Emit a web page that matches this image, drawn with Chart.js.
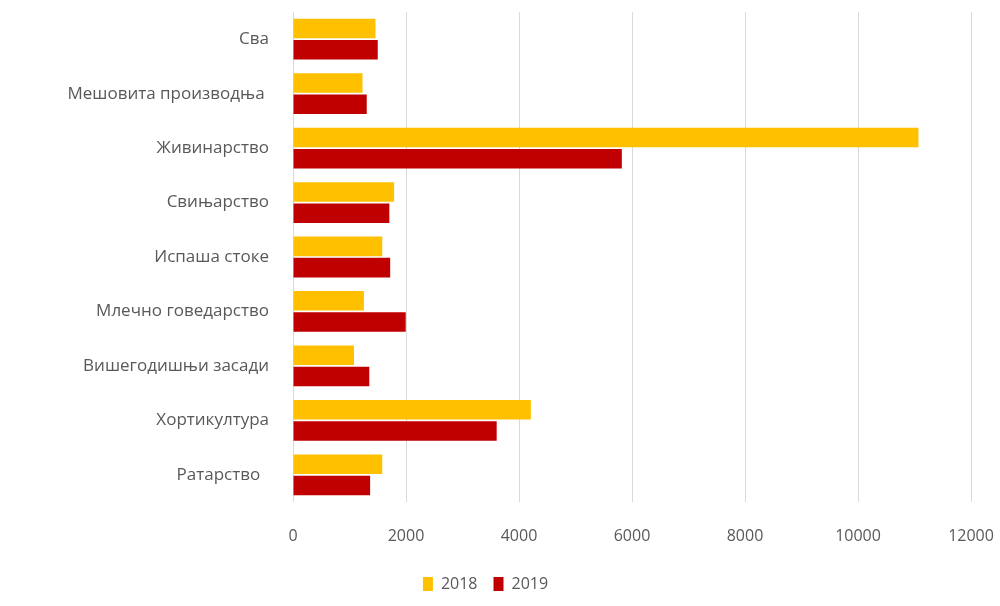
<!DOCTYPE html>
<html>
<head>
<meta charset="utf-8">
<script src="https://cdn.jsdelivr.net/npm/chart.js@4"></script>
<style>
  html, body { margin: 0; padding: 0; background: #fff; }
  #wrap { width: 1000px; height: 606px; }
</style>
</head>
<body>
<div id="wrap"><canvas id="chart"></canvas></div>
<script>
const categories = ["Сва", "Мешовита производња ", "Живинарство", "Свињарство", "Испаша стоке",
                    "Млечно говедарство", "Вишегодишњи засади", "Хортикултура", "Ратарство  "];
const values2018 = [1460, 1230, 11070, 1790, 1580, 1255, 1080, 4210, 1580];
const values2019 = [1500, 1305, 5820, 1705, 1720, 1995, 1350, 3605, 1365];
const xTicks = [0, 2000, 4000, 6000, 8000, 10000, 12000];

const labelColor = "#595959";
const font = "'Open Sans', 'Noto Sans', sans-serif";

new Chart(document.getElementById("chart"), {
  type: "bar",
  data: {
    labels: categories,
    datasets: [
      { label: "2018", data: values2018, backgroundColor: "#FFC000", barPercentage: 0.92, categoryPercentage: 0.78 },
      { label: "2019", data: values2019, backgroundColor: "#C00000", barPercentage: 0.92, categoryPercentage: 0.78 }
    ]
  },
  options: {
    indexAxis: "y",
    responsive: true,
    maintainAspectRatio: false,
    animation: false,
    layout: { padding: { top: 12, right: 29, left: 0, bottom: 4 } },
    scales: {
      x: {
        min: 0, max: 12000,
        afterBuildTicks: s => { s.ticks = xTicks.map(v => ({ value: v })); },
        afterFit: s => { s.height = 58; s.paddingLeft = 0; s.paddingRight = 0; },
        grid: { color: "#d9d9d9", drawTicks: false },
        border: { display: false },
        ticks: { padding: 25, color: labelColor, font: { family: font, size: 16 },
                 callback: v => String(v) }
      },
      y: {
        afterFit: s => { s.width = 293; s.paddingTop = 0; s.paddingBottom = 0; },
        grid: { display: false },
        border: { display: false },
        ticks: { padding: 16, color: labelColor, font: { family: font, size: 17 } }
      }
    },
    plugins: {
      legend: {
        position: "bottom",
        labels: {
          color: labelColor,
          boxWidth: 10, boxHeight: 14,
          padding: 16,
          font: { family: font, size: 16 }
        }
      },
      tooltip: { enabled: false }
    }
  }
});
</script>
</body>
</html>
